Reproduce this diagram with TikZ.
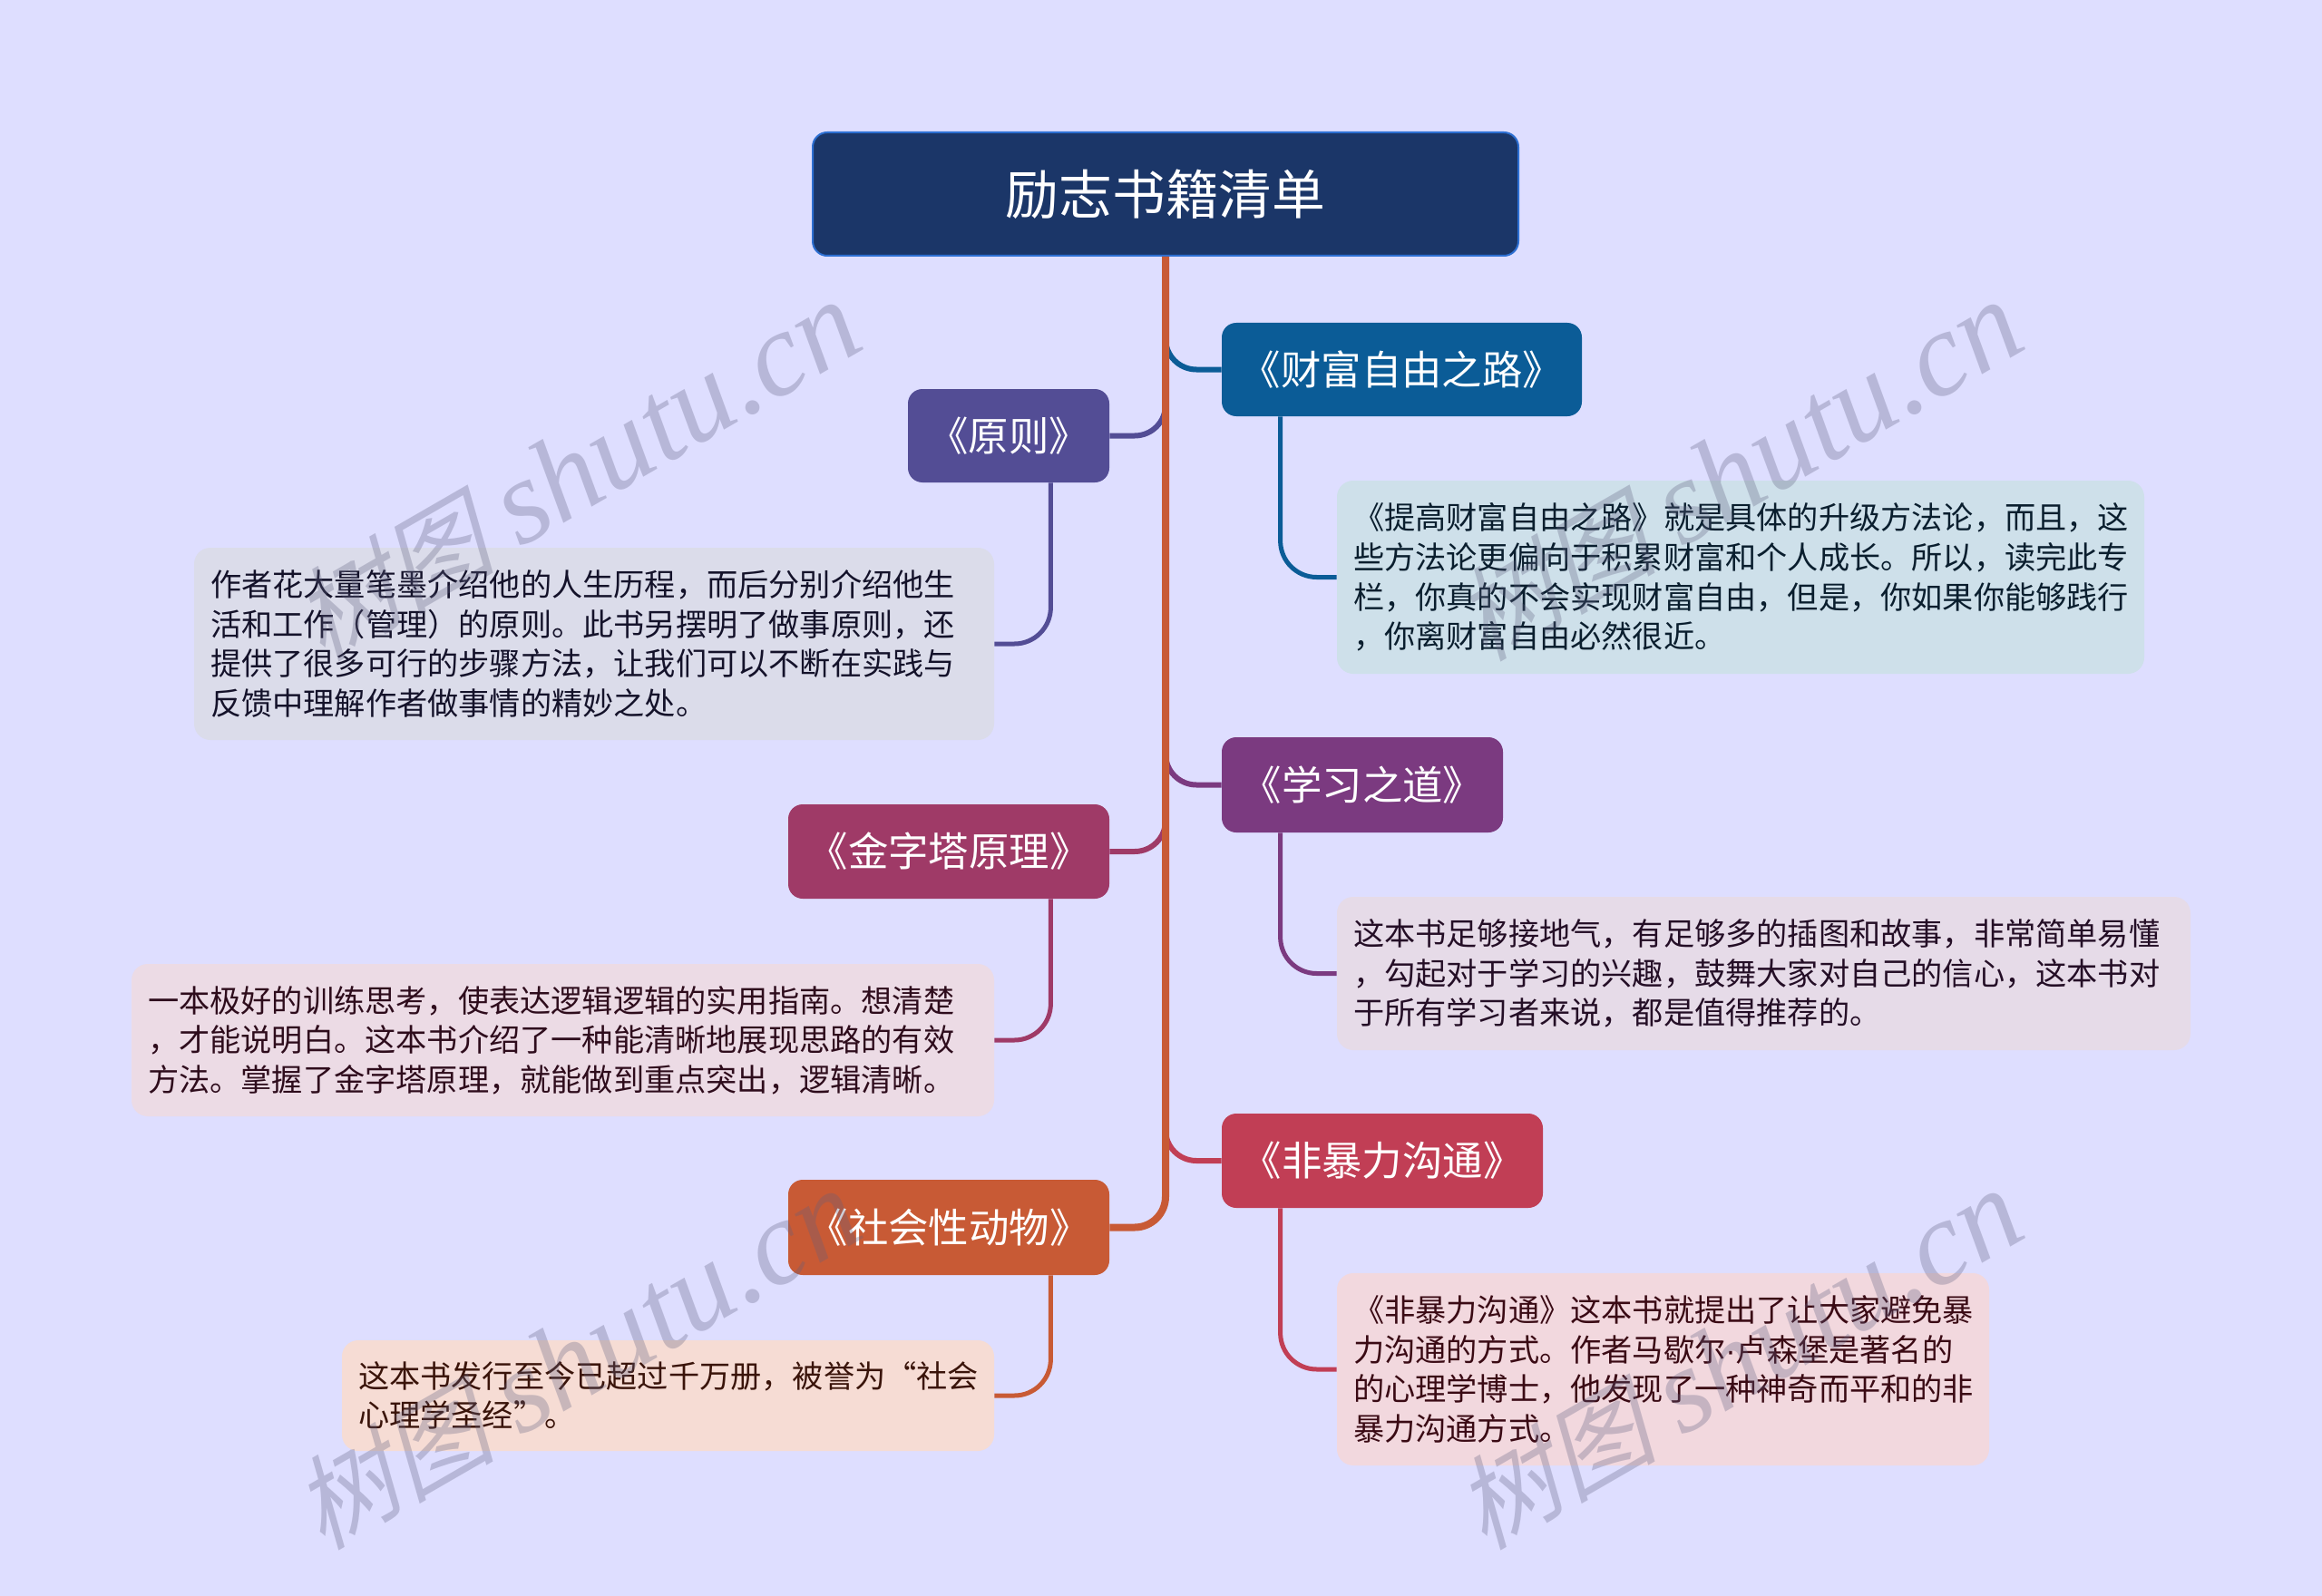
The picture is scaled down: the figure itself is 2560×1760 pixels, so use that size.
\documentclass[tikz,border=0pt]{standalone}
\usepackage{fontspec}
\setmainfont{Noto Sans CJK SC}
\newfontfamily\wmcjk[FakeSlant=0.25]{Noto Sans CJK SC}
\newfontfamily\wmlat{Liberation Serif}
\newfontfamily\dotfont{Liberation Sans}
\definecolor{bgc}{HTML}{DEDEFF}
\definecolor{rootc}{HTML}{1B3668}
\definecolor{rootb}{HTML}{2D6FD2}
\definecolor{ca}{HTML}{0B5C97}\definecolor{cad}{HTML}{CEE0EA}\definecolor{cat}{HTML}{0A1E2E}
\definecolor{yu}{HTML}{534D95}\definecolor{yud}{HTML}{DBDCEA}\definecolor{yut}{HTML}{14122A}
\definecolor{ji}{HTML}{9F3A67}\definecolor{jid}{HTML}{ECDBE5}\definecolor{jit}{HTML}{2E0C1C}
\definecolor{xu}{HTML}{7B3A80}\definecolor{xud}{HTML}{E6DBE8}\definecolor{xut}{HTML}{240E26}
\definecolor{fe}{HTML}{C13E55}\definecolor{fed}{HTML}{F2D8DE}\definecolor{fet}{HTML}{3A0A14}
\definecolor{sh}{HTML}{C85A35}\definecolor{shd}{HTML}{F6DCD4}\definecolor{sht}{HTML}{3A140A}
\definecolor{wmc}{HTML}{606080}
\tikzset{
  x=0.5pt,y=-0.5pt,
  rootbox/.style={draw=rootb,line width=1pt,fill=rootc,text=white,rounded corners=8pt,inner sep=0pt,align=center,font=\fontsize{29.4}{34}\selectfont},
  headbox/.style={rounded corners=8pt,inner sep=0pt,align=center,text=white,font=\fontsize{22.2}{27}\selectfont},
  descbox/.style={rounded corners=9pt,inner ysep=0pt,inner xsep=9pt,align=left,font=\fontsize{17.1}{21.8}\selectfont},
  branch/.style={line width=3pt,rounded corners=17pt},
  subline/.style={line width=2.5pt,rounded corners=20pt},
  trunk/.style={line width=4pt,rounded corners=17pt,draw=sh},
  wmark/.style={text=wmc,opacity=0.3,text opacity=0.3,rotate=30,inner sep=0pt}
}
\newcommand{\wmtext}{{\wmcjk\fontsize{56}{58}\selectfont 树图}\hspace{14pt}{\wmlat\itshape\fontsize{66}{68}\selectfont shutu.cn}}
\begin{document}
\begin{tikzpicture}
\fill[bgc,use as bounding box] (0,0) rectangle (2560,1760);
% nodes
\node[rootbox,minimum width=389pt,minimum height=68pt] (root) at (1285,214) {励志书籍清单};
\node[headbox,fill=ca,minimum width=198.5pt,minimum height=51.5pt] (caifu) at (1545.5,407.5) {《财富自由之路》};
\node[headbox,fill=yu,minimum width=111pt,minimum height=51.5pt] (yuanze) at (1112,480.5) {《原则》};
\node[headbox,fill=ji,minimum width=177pt,minimum height=52pt] (jin) at (1046,939) {《金字塔原理》};
\node[headbox,fill=sh,minimum width=177pt,minimum height=52.5pt] (shehui) at (1046,1353.5) {《社会性动物》};
\node[headbox,fill=xu,minimum width=155pt,minimum height=52.5pt] (xuexi) at (1502,865.5) {《学习之道》};
\node[headbox,fill=fe,minimum width=177pt,minimum height=52pt] (fei) at (1524,1280) {《非暴力沟通》};
\node[descbox,fill=cad,text=cat,text width=427pt,minimum height=106.5pt] (caifud) at (1919,636.5) {《提高财富自由之路》就是具体的升级方法论，而且，这\\些方法论更偏向于积累财富和个人成长。所以，读完此专\\栏，你真的不会实现财富自由，但是，你如果你能够践行\\，你离财富自由必然很近。};
\node[descbox,fill=yud,text=yut,text width=423pt,minimum height=106pt] (yuanzed) at (655,710) {作者花大量笔墨介绍他的人生历程，而后分别介绍他生\\活和工作（管理）的原则。此书另摆明了做事原则，还\\提供了很多可行的步骤方法，让我们可以不断在实践与\\反馈中理解作者做事情的精妙之处。};
\node[descbox,fill=jid,text=jit,text width=457.5pt,minimum height=84pt] (jind) at (620.5,1147) {一本极好的训练思考，使表达逻辑逻辑的实用指南。想清楚\\，才能说明白。这本书介绍了一种能清晰地展现思路的有效\\方法。掌握了金字塔原理，就能做到重点突出，逻辑清晰。};
\node[descbox,fill=xud,text=xut,text width=452.5pt,minimum height=84.5pt] (xuexid) at (1944.5,1073.5) {这本书足够接地气，有足够多的插图和故事，非常简单易懂\\，勾起对于学习的兴趣，鼓舞大家对自己的信心，这本书对\\于所有学习者来说，都是值得推荐的。};
\node[descbox,fill=fed,text=fet,text width=341.5pt,minimum height=106pt] (feid) at (1833.5,1510) {《非暴力沟通》这本书就提出了让大家避免暴\\力沟通的方式。作者马歇尔{\dotfont ·}卢森堡是著名的\\的心理学博士，他发现了一种神奇而平和的非\\暴力沟通方式。};
\node[descbox,fill=shd,text=sht,text width=341.5pt,minimum height=61pt] (shehuid) at (736.5,1539) {这本书发行至今已超过千万册，被誉为“社会\\心理学圣经”。};
% branches from the trunk
\draw[branch,draw=ca] (caifu.west) -| ([yshift=20pt]caifu.west -| root.south);
\draw[branch,draw=yu] (yuanze.east) -| ([yshift=20pt]yuanze.east -| root.south);
\draw[branch,draw=xu] (xuexi.west) -| ([yshift=20pt]xuexi.west -| root.south);
\draw[branch,draw=ji] (jin.east) -| ([yshift=20pt]jin.east -| root.south);
\draw[branch,draw=fe] (fei.west) -| ([yshift=20pt]fei.west -| root.south);
\draw[trunk] (root.south) |- (shehui.east);
% sub connectors
\draw[subline,draw=ca] ([xshift=32.5pt]caifu.south west) |- (caifud.west);
\draw[subline,draw=xu] ([xshift=32.5pt]xuexi.south west) |- (xuexid.west);
\draw[subline,draw=fe] ([xshift=32.5pt]fei.south west) |- (feid.west);
\draw[subline,draw=yu] ([xshift=-32.5pt]yuanze.south east) |- (yuanzed.east);
\draw[subline,draw=ji] ([xshift=-32.5pt]jin.south east) |- (jind.east);
\draw[subline,draw=sh] ([xshift=-32.5pt]shehui.south east) |- (shehuid.east);
% watermarks
\node[wmark] (wm1) at (635,520) {\wmtext};
\node[wmark] (wm2) at (1916,520) {\wmtext};
\node[wmark] (wm3) at (635,1500) {\wmtext};
\node[wmark] (wm4) at (1916,1500) {\wmtext};
\end{tikzpicture}
\end{document}
